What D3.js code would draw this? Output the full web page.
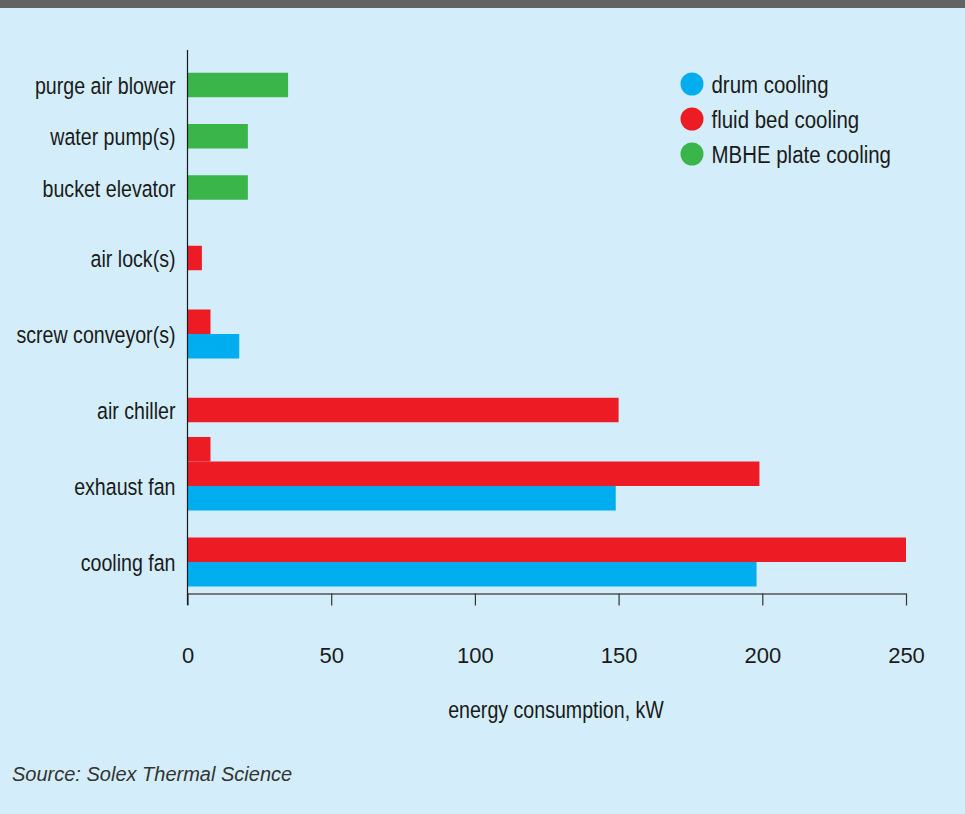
<!DOCTYPE html>
<html>
<head>
<meta charset="utf-8">
<script src="https://cdn.jsdelivr.net/npm/d3@7/dist/d3.min.js"></script>
<style>
  html, body { margin: 0; padding: 0; background: #d3eefa; }
  svg { display: block; }
  .narrow { font-family: "Liberation Sans", Arial, sans-serif; }
</style>
</head>
<body>
<svg id="chart" width="965" height="814"></svg>
<script>
// Energy consumption per component, kW
const categories = ["purge air blower", "water pump(s)", "bucket elevator", "air lock(s)",
                    "screw conveyor(s)", "air chiller", "exhaust fan", "cooling fan"];
const upperCategories = ["purge air blower", "water pump(s)", "bucket elevator"];
const lowerCategories = ["air lock(s)", "screw conveyor(s)", "air chiller", "exhaust fan", "cooling fan"];

const drumCooling       = [null, null, null, null, 18, null, 149, 198];
const fluidBedCooling   = [null, null, null, 5, 8, 150, 199, 250];
const fluidBedSecondFan = [null, null, null, null, null, null, 8, null];
const mbhePlateCooling  = [35, 21, 21, null, null, null, null, null];

const seriesNames = ["drum cooling", "fluid bed cooling", "MBHE plate cooling"];
const seriesColors = ["#00aeef", "#ed1c24", "#39b54a"];
const xTicks = [0, 50, 100, 150, 200, 250];
const xTitle = "energy consumption, kW";
const sourceText = "Source: Solex Thermal Science";

const svg = d3.select("#chart");

// condensed lettering: regular face squeezed horizontally
const squeeze = 0.835;
const narrowAt = (px, py) => `translate(${px},${py}) scale(${squeeze},1)`;

// background and top band
svg.append("rect").attr("width", 965).attr("height", 814).attr("fill", "#d3eefa");
svg.append("rect").attr("width", 965).attr("height", 8).attr("fill", "#636363");

const x = d3.scaleLinear().domain([0, 250]).range([187.5, 906]);
const yUpper = d3.scalePoint().domain(upperCategories).range([85, 187.5]);
const yLower = d3.scalePoint().domain(lowerCategories).range([258, 562]);
const yCenter = c => upperCategories.includes(c) ? yUpper(c) : yLower(c);
const barH = 24.5;

// bars: paired series centred on the category, the extra fan bar stacked on top
const bars = [];
categories.forEach((cat, i) => {
  const main = [];
  if (fluidBedCooling[i] != null) main.push({ v: fluidBedCooling[i], color: seriesColors[1] });
  if (drumCooling[i] != null) main.push({ v: drumCooling[i], color: seriesColors[0] });
  if (mbhePlateCooling[i] != null) main.push({ v: mbhePlateCooling[i], color: seriesColors[2] });
  const top = yCenter(cat) - main.length * barH / 2;
  main.forEach((b, k) => bars.push({ cat, v: b.v, color: b.color, y: top + k * barH }));
  if (fluidBedSecondFan[i] != null)
    bars.push({ cat, v: fluidBedSecondFan[i], color: seriesColors[1], y: top - barH });
});

svg.append("g").selectAll("rect").data(bars).join("rect")
  .attr("x", x(0))
  .attr("y", d => d.y)
  .attr("width", d => x(d.v) - x(0))
  .attr("height", barH)
  .attr("fill", d => d.color);

// category labels
svg.append("g").attr("class", "narrow").selectAll("text").data(categories).join("text")
  .attr("transform", d => narrowAt(175.5, yCenter(d) + 1))
  .attr("dy", "0.35em")
  .attr("text-anchor", "end")
  .attr("font-size", 23.5)
  .attr("fill", "#1a1a1a")
  .text(d => d);

// x axis
const xAxis = d3.axisBottom(x).tickValues(xTicks).tickSize(12).tickPadding(42).tickSizeOuter(0);
const gx = svg.append("g").attr("transform", "translate(0,593.5)").call(xAxis);
gx.select(".domain").attr("stroke", "#555").attr("stroke-width", 1.5);
gx.selectAll(".tick line").attr("stroke", "#333").attr("stroke-width", 1.2);
gx.selectAll(".tick text")
  .attr("font-family", "'Liberation Sans', Arial, sans-serif")
  .attr("font-size", 22)
  .attr("fill", "#1a1a1a");

// y axis line
svg.append("line")
  .attr("x1", x(0)).attr("x2", x(0))
  .attr("y1", 50).attr("y2", 605)
  .attr("stroke", "#1a1a1a").attr("stroke-width", 1.2);

// axis title
svg.append("text").attr("class", "narrow")
  .attr("transform", narrowAt(556, 718))
  .attr("text-anchor", "middle")
  .attr("font-size", 23.5)
  .attr("fill", "#1a1a1a")
  .text(xTitle);

// legend
const legend = svg.append("g").selectAll("g").data(seriesNames).join("g")
  .attr("transform", (d, i) => `translate(692,${84 + i * 35})`);
legend.append("circle").attr("r", 11.5).attr("fill", (d, i) => seriesColors[i]);
legend.append("text").attr("class", "narrow")
  .attr("transform", narrowAt(19.5, 8.5))
  .attr("font-size", 24.5)
  .attr("fill", "#1a1a1a")
  .text(d => d);

// source note
svg.append("text")
  .attr("x", 12).attr("y", 781)
  .attr("font-family", "'Liberation Sans', Arial, sans-serif")
  .attr("font-style", "italic")
  .attr("font-size", 20)
  .attr("fill", "#333")
  .text(sourceText);
</script>
</body>
</html>
